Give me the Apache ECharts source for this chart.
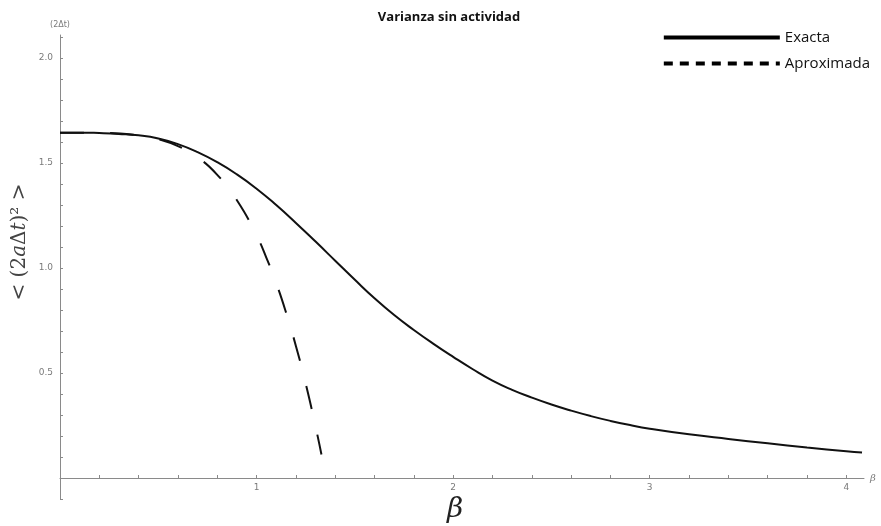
<!DOCTYPE html>
<html>
<head>
<meta charset="utf-8">
<title>Varianza sin actividad</title>
<script src="https://cdn.jsdelivr.net/npm/echarts@6/dist/echarts.min.js"></script>
<style>
  html, body { margin: 0; padding: 0; background: #fff; }
  #main { width: 881px; height: 526px; }
</style>
</head>
<body>
<div id="main"></div>
<script>
// valores
var betaExacta = [0, 0.1, 0.2, 0.3, 0.4, 0.5, 0.6, 0.7, 0.8, 0.9, 1.0, 1.1, 1.2, 1.3, 1.4, 1.5, 1.6, 1.7, 1.8, 1.9, 2.0,
  2.1, 2.2, 2.3, 2.4, 2.5, 2.6, 2.7, 2.8, 2.9, 3.0, 3.2, 3.4, 3.6, 3.8, 4.0, 4.08];
var varExacta = [1.645, 1.645, 1.643, 1.639, 1.632, 1.617, 1.590, 1.552, 1.504, 1.446, 1.378, 1.300, 1.215, 1.126,
  1.035, 0.944, 0.856, 0.776, 0.705, 0.639, 0.577, 0.518, 0.464, 0.420, 0.383, 0.350, 0.321, 0.295, 0.272, 0.252,
  0.235, 0.208, 0.186, 0.165, 0.145, 0.127, 0.121];

var betaAprox = [0, 0.2, 0.4, 0.5, 0.6, 0.7, 0.8, 0.9, 1.0, 1.05, 1.1, 1.15, 1.2, 1.25, 1.3, 1.33];
var varAprox = [1.645, 1.644, 1.632, 1.614, 1.581, 1.527, 1.444, 1.323, 1.155, 1.049, 0.928, 0.788, 0.629, 0.449, 0.245, 0.112];

var xLabels = [1, 2, 3, 4];
var yLabels = [0.5, 1.0, 1.5, 2.0];
var xMinor = [0.2, 0.4, 0.6, 0.8, 1, 1.2, 1.4, 1.6, 1.8, 2, 2.2, 2.4, 2.6, 2.8, 3, 3.2, 3.4, 3.6, 3.8, 4];
var yMinor = [-0.1, 0.1, 0.2, 0.3, 0.4, 0.5, 0.6, 0.7, 0.8, 0.9, 1, 1.1, 1.2, 1.3, 1.4, 1.5, 1.6, 1.7, 1.8, 1.9, 2, 2.1];

function pairs(xs, ys) {
  var out = [];
  for (var i = 0; i < xs.length; i++) out.push([xs[i], ys[i]]);
  return out;
}

var chart = echarts.init(document.getElementById('main'), null, { renderer: 'canvas' });

var axisGray = '#8a8a8a';
var labelGray = '#7a7a7a';

var option = {
  animation: false,
  backgroundColor: '#fff',
  color: ['#111', '#111'],
  title: {
    text: 'Varianza sin actividad',
    left: 444,
    textAlign: 'center',
    top: 6,
    textStyle: { fontFamily: 'Open Sans', fontWeight: 'bold', fontSize: 13, color: '#111' }
  },
  legend: {
    orient: 'vertical',
    right: 6,
    top: 25,
    itemWidth: 116,
    itemHeight: 14,
    itemGap: 11,
    textStyle: { fontFamily: 'Open Sans', fontSize: 15, color: '#111' },
    data: [
      { name: 'Exacta', itemStyle: { opacity: 0 }, lineStyle: { width: 4, color: '#000', type: 'solid' } },
      { name: 'Aproximada', itemStyle: { opacity: 0 }, lineStyle: { width: 4, color: '#000', type: [9, 7] } }
    ]
  },
  grid: { left: 60, right: 17, top: 35, bottom: 27, containLabel: false },
  xAxis: {
    type: 'value',
    min: 0,
    max: 4.09,
    name: 'β',
    nameLocation: 'end',
    nameGap: 6,
    nameTextStyle: { color: labelGray, fontSize: 10, fontStyle: 'italic', fontFamily: 'DejaVu Serif' },
    axisLine: { onZero: true, lineStyle: { color: axisGray, width: 1 } },
    axisTick: { show: true, inside: true, length: 3, customValues: xMinor, lineStyle: { color: axisGray } },
    axisLabel: { customValues: xLabels, color: labelGray, fontSize: 9, margin: -16, fontFamily: 'DejaVu Sans' },
    splitLine: { show: false }
  },
  yAxis: {
    type: 'value',
    min: -0.1,
    max: 2.11,
    name: '(2Δt)',
    nameLocation: 'end',
    nameGap: 6,
    nameTextStyle: { color: labelGray, fontSize: 8, fontFamily: 'DejaVu Sans', align: 'center' },
    axisLine: { onZero: false, lineStyle: { color: axisGray, width: 1 } },
    axisTick: { show: true, inside: true, length: 3, customValues: yMinor, lineStyle: { color: axisGray } },
    axisLabel: {
      customValues: yLabels, color: labelGray, fontSize: 9, margin: 7, fontFamily: 'DejaVu Sans',
      formatter: function (v) { return v.toFixed(1); }
    },
    splitLine: { show: false }
  },
  graphic: [
    {
      type: 'text',
      x: 20, y: 242,
      rotation: Math.PI / 2,
      style: {
        text: '< (2{i|a}Δ{i|t})² >',
        align: 'center',
        verticalAlign: 'middle',
        fill: '#444',
        font: '20px "DejaVu Serif"',
        rich: { i: { fontStyle: 'italic', fontSize: 20, fontFamily: 'DejaVu Serif', fill: '#444' } }
      }
    },
    {
      type: 'text',
      x: 455, y: 510,
      style: {
        text: 'β',
        align: 'center',
        verticalAlign: 'middle',
        fill: '#222',
        font: 'italic 28px "DejaVu Serif"'
      }
    }
  ],
  series: [
    {
      name: 'Aproximada',
      type: 'line',
      smooth: true,
      symbol: 'none',
      data: pairs(betaAprox, varAprox),
      itemStyle: { color: '#111' },
      lineStyle: { color: '#111', width: 2, type: [24, 26] },
      z: 2
    },
    {
      name: 'Exacta',
      type: 'line',
      smooth: true,
      symbol: 'none',
      data: pairs(betaExacta, varExacta),
      itemStyle: { color: '#111' },
      lineStyle: { color: '#111', width: 2 },
      z: 3
    }
  ]
};

chart.setOption(option);
</script>
</body>
</html>
